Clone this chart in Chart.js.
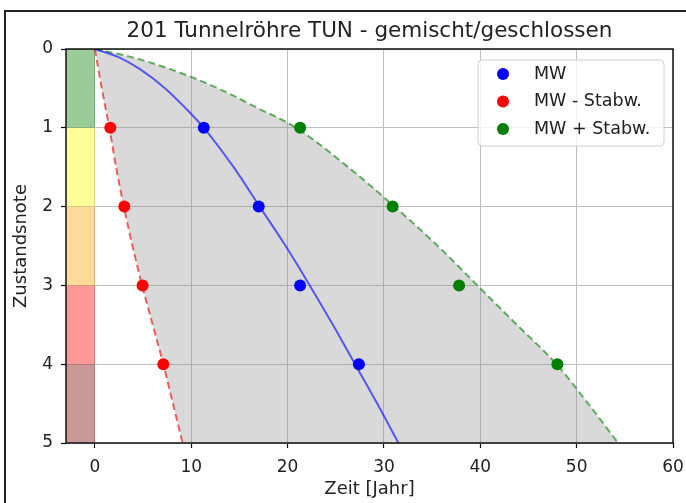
<!DOCTYPE html>
<html>
<head>
<meta charset="utf-8">
<script src="https://cdn.jsdelivr.net/npm/chart.js@4.4.1/dist/chart.umd.min.js"></script>
<style>
    html, body { margin: 0; padding: 0; background: #fff; }
</style>
</head>
<body>
<canvas id="chart" width="686" height="503"></canvas>
<script>
// Messpunkte: Zustandsnote und Zeit in Jahren
const noteLevels = [1, 2, 3, 4];
const mwYears = [11.3, 17.0, 21.3, 27.4];
const minusYears = [1.6, 3.05, 4.95, 7.1];
const plusYears = [21.3, 30.9, 37.8, 48.0];

const curveLevels = [0, 0.1, 0.25, 0.5, 0.75, 1, 1.5, 2, 2.5, 3, 3.5, 4, 4.5, 5];
const mwCurve = [0, 2.4, 4.6, 7.3, 9.4, 11.3, 14.4, 17.1, 19.8, 22.3, 24.7, 27.0, 29.3, 31.5];
const minusCurve = [0, 0.14, 0.35, 0.72, 1.1, 1.5, 2.2, 3.0, 3.9, 4.9, 6.0, 7.1, 8.1, 9.1];
const plusCurve = [0, 3.7, 7.7, 12.8, 16.9, 20.9, 26.3, 31.1, 35.6, 39.7, 43.8, 47.9, 51.2, 54.3];

// Farbbaender links (Zustandsklassen)
const bandLimits = [0, 1, 2, 3, 4, 5];
const bandColors = ['rgba(0,128,0,0.4)', 'rgba(255,255,0,0.4)', 'rgba(255,165,0,0.4)', 'rgba(255,0,0,0.4)', 'rgba(128,0,0,0.4)'];
const bandYears = [-3, 0];

const xTicks = [0, 10, 20, 30, 40, 50, 60];
const yTicks = [0, 1, 2, 3, 4, 5];

function pts(xs, ys) {
    return xs.map(function (x, i) { return { x: x, y: ys[i] }; });
}

// untere Grenze der grauen Flaeche: MW - Stabw. Kurve, dann entlang Note 5
const fillBoundary = pts(minusCurve, curveLevels).concat([
    { x: plusCurve[plusCurve.length - 1], y: curveLevels[curveLevels.length - 1] }
]);

function pointSet(label, xs, color) {
    return {
        label: label,
        inLegend: true,
        data: pts(xs, noteLevels),
        showLine: false,
        pointRadius: 6,
        pointHoverRadius: 6,
        pointBorderWidth: 0,
        pointBackgroundColor: color,
        borderColor: color,
        backgroundColor: color
    };
}

function curveSet(xs, color, dash) {
    return {
        data: pts(xs, curveLevels),
        borderColor: color,
        borderWidth: 2,
        borderDash: dash,
        pointRadius: 0,
        cubicInterpolationMode: 'monotone',
        fill: false
    };
}

const datasets = [
    pointSet('MW', mwYears, '#0000ff'),
    pointSet('MW - Stabw.', minusYears, '#ff0000'),
    pointSet('MW + Stabw.', plusYears, '#008000'),
    curveSet(mwCurve, 'rgba(0,0,255,0.6)', []),
    curveSet(minusCurve, 'rgba(230,0,0,0.6)', [7, 4]),
    Object.assign(curveSet(plusCurve, 'rgba(0,128,0,0.6)', [7, 4]), {
        fill: '+1',
        backgroundColor: 'rgba(128,128,128,0.3)'
    }),
    {
        data: fillBoundary,
        borderWidth: 0,
        borderColor: 'rgba(0,0,0,0)',
        pointRadius: 0,
        fill: false
    }
];

bandColors.forEach(function (c, i) {
    datasets.push({
        data: [{ x: bandYears[0], y: bandLimits[i + 1] }, { x: bandYears[1], y: bandLimits[i + 1] }],
        borderWidth: 0,
        borderColor: 'rgba(0,0,0,0)',
        pointRadius: 0,
        backgroundColor: c,
        fill: { value: bandLimits[i] }
    });
});

// Rahmen der Abbildung und Achsenrahmen
const framePlugin = {
    id: 'framePlugin',
    beforeDraw: function (chart) {
        const ctx = chart.ctx;
        ctx.save();
        ctx.fillStyle = '#fff';
        ctx.fillRect(0, 0, chart.width, chart.height);
        ctx.strokeStyle = '#222';
        ctx.lineWidth = 2;
        ctx.beginPath();
        ctx.moveTo(5, chart.height);
        ctx.lineTo(5, 11);
        ctx.lineTo(chart.width, 11);
        ctx.stroke();
        ctx.restore();
    },
    afterDatasetsDraw: function (chart) {
        const a = chart.chartArea;
        const ctx = chart.ctx;
        ctx.save();
        ctx.strokeStyle = '#111';
        ctx.lineWidth = 1.5;
        ctx.strokeRect(a.left, a.top, a.right - a.left, a.bottom - a.top);
        ctx.restore();
    }
};

// Legende oben rechts im Diagramm
const legendPlugin = {
    id: 'legendPlugin',
    afterDraw: function (chart) {
        const a = chart.chartArea;
        const ctx = chart.ctx;
        const items = chart.data.datasets.filter(function (d) { return d.inLegend; });
        const w = 186, h = 86;
        const x0 = a.right - w - 9, y0 = a.top + 11;
        ctx.save();
        ctx.beginPath();
        ctx.roundRect(x0, y0, w, h, 4);
        ctx.fillStyle = 'rgba(255,255,255,0.8)';
        ctx.fill();
        ctx.strokeStyle = '#d0d0d0';
        ctx.lineWidth = 1;
        ctx.stroke();
        ctx.font = '17.5px "DejaVu Sans"';
        ctx.textBaseline = 'middle';
        items.forEach(function (d, i) {
            const cy = y0 + 14 + i * 27.5;
            ctx.beginPath();
            ctx.arc(x0 + 25, cy, 6, 0, Math.PI * 2);
            ctx.fillStyle = d.pointBackgroundColor;
            ctx.fill();
            ctx.fillStyle = '#222';
            ctx.fillText(d.label, x0 + 56, cy);
        });
        ctx.restore();
    }
};

Chart.defaults.font.family = '"DejaVu Sans", sans-serif';
Chart.defaults.color = '#222';

new Chart(document.getElementById('chart'), {
    type: 'line',
    data: { datasets: datasets },
    options: {
        responsive: false,
        animation: false,
        devicePixelRatio: 1,
        layout: { padding: { left: 0, right: 13, top: 0, bottom: 0 } },
        plugins: {
            legend: { display: false },
            tooltip: { enabled: false },
            title: {
                display: true,
                fullSize: false,
                text: '201 Tunnelröhre TUN - gemischt/geschlossen',
                font: { size: 21.5, weight: 'normal' },
                color: '#222',
                padding: { top: 19, bottom: 4.2 }
            }
        },
        scales: {
            x: {
                type: 'linear',
                min: -3,
                max: 60,
                afterBuildTicks: function (s) { s.ticks = xTicks.map(function (v) { return { value: v }; }); },
                afterFit: function (s) { s.height = 60; s.paddingLeft = 0; s.paddingRight = 0; },
                grid: { color: '#c0c0c0', lineWidth: 1, tickLength: 5, tickColor: '#000', tickWidth: 1.2 },
                border: { display: false },
                ticks: { padding: 9, font: { size: 17 }, color: '#222', maxRotation: 0, autoSkip: false },
                title: { display: true, text: 'Zeit [Jahr]', font: { size: 18 }, color: '#222', padding: { top: 0, bottom: 2.5 } }
            },
            y: {
                type: 'linear',
                reverse: true,
                min: 0,
                max: 5,
                afterBuildTicks: function (s) { s.ticks = yTicks.map(function (v) { return { value: v }; }); },
                afterFit: function (s) { s.width = 66; },
                grid: { color: '#c0c0c0', lineWidth: 1, tickLength: 5, tickColor: '#000', tickWidth: 1.2 },
                border: { display: false },
                ticks: { padding: 8, font: { size: 17 }, color: '#222', autoSkip: false },
                title: { display: true, text: 'Zustandsnote', font: { size: 18 }, color: '#222', padding: { top: 11, bottom: 0 } }
            }
        }
    },
    plugins: [framePlugin, legendPlugin]
});
</script>
</body>
</html>
